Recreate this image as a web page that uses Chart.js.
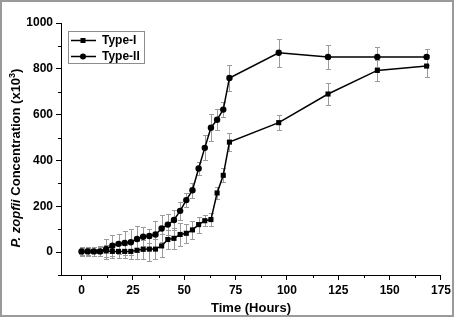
<!DOCTYPE html>
<html lang="en">
<head>
    <meta charset="UTF-8">
    <title>P. zopfii concentration over time</title>
    <style>
        html, body { margin: 0; padding: 0; background: #fff; }
        #chart { display: block; }
    </style>
</head>
<body>
<canvas id="chart" width="454" height="317"></canvas>

<script src="https://cdn.jsdelivr.net/npm/chart.js"></script>
<script>
    // sampling times (hours)
    const hours = [0, 3, 6, 9, 12, 15, 18, 21, 24, 27, 30, 33, 36, 39, 42, 45, 48, 51, 54, 57, 60, 63, 66, 69, 72, 96, 120, 144, 168];
    const typeI = [2, 3, 3, 3, 5, 3, 3, 3, 3, 8, 12, 13, 13, 27, 55, 60, 77, 82, 97, 120, 137, 142, 258, 335, 480, 565, 690, 793, 812];
    const typeIErr = [15, 15, 18, 18, 28, 28, 30, 28, 35, 40, 42, 50, 42, 50, 42, 45, 50, 42, 40, 35, 25, 30, 28, 31, 39, 33, 48, 47, 49];
    const typeII = [3, 3, 3, 3, 14, 28, 36, 40, 43, 57, 67, 70, 77, 103, 120, 140, 180, 227, 270, 365, 455, 543, 578, 622, 760, 870, 852, 852, 852];
    const typeIIErr = [20, 20, 20, 22, 45, 47, 45, 52, 57, 58, 41, 32, 57, 60, 46, 44, 40, 30, 33, 27, 55, 59, 46, 32, 55, 62, 51, 45, 36];
    const seriesNames = ['Type-I', 'Type-II'];
    const xTicks = [0, 25, 50, 75, 100, 125, 150, 175];
    const yTicks = [0, 200, 400, 600, 800, 1000];

    const FONT = '"Liberation Sans", Arial, sans-serif';

    function points(vals) {
        return hours.map((h, i) => ({ x: h, y: vals[i] }));
    }

    // gray error bars, drawn under the lines
    const errorBars = {
        id: 'errorBars',
        beforeDatasetsDraw(chart) {
            const ctx = chart.ctx;
            const y = chart.scales.y;
            const errs = [typeIErr, typeIIErr];
            ctx.save();
            ctx.strokeStyle = '#9a9a9a';
            ctx.lineWidth = 1;
            chart.data.datasets.forEach((ds, d) => {
                chart.getDatasetMeta(d).data.forEach((pt, i) => {
                    const v = ds.data[i].y, e = errs[d][i];
                    const top = Math.round(y.getPixelForValue(v + e)) + 0.5;
                    const bot = Math.round(y.getPixelForValue(v - e)) + 0.5;
                    const x = Math.round(pt.x) + 0.5;
                    ctx.beginPath();
                    ctx.moveTo(x, top); ctx.lineTo(x, bot);
                    ctx.moveTo(x - 2.5, top); ctx.lineTo(x + 2.5, top);
                    ctx.moveTo(x - 2.5, bot); ctx.lineTo(x + 2.5, bot);
                    ctx.stroke();
                });
            });
            ctx.restore();
        }
    };

    // minor ticks, axis titles, legend box and outer frame
    const decorations = {
        id: 'decorations',
        afterDraw(chart) {
            const ctx = chart.ctx;
            const xs = chart.scales.x, ys = chart.scales.y;
            const area = chart.chartArea;
            ctx.save();
            ctx.strokeStyle = '#000';
            ctx.lineWidth = 1;
            ctx.beginPath();
            for (let v = 12.5; v < 175; v += 25) {
                const px = Math.round(xs.getPixelForValue(v)) + 0.5;
                ctx.moveTo(px, area.bottom); ctx.lineTo(px, area.bottom + 3);
            }
            for (let v = -100; v < 1000; v += 200) {
                const py = Math.round(ys.getPixelForValue(v)) + 0.5;
                ctx.moveTo(area.left, py); ctx.lineTo(area.left - 3, py);
            }
            ctx.stroke();

            // x title
            ctx.fillStyle = '#000';
            ctx.font = 'bold 13px ' + FONT;
            ctx.textAlign = 'center';
            ctx.textBaseline = 'alphabetic';
            ctx.fillText('Time (Hours)', 251, 312);

            // y title with italic species name and superscript
            ctx.translate(20, 158);
            ctx.rotate(-Math.PI / 2);
            const parts = [
                { t: 'P. zopfii', f: 'italic bold 13px ' + FONT, dy: 0 },
                { t: ' Concentration (x10', f: 'bold 13px ' + FONT, dy: 0 },
                { t: '3', f: 'bold 9px ' + FONT, dy: -5 },
                { t: ')', f: 'bold 13px ' + FONT, dy: 0 }
            ];
            let total = 0;
            parts.forEach(p => { ctx.font = p.f; p.w = ctx.measureText(p.t).width; total += p.w; });
            let cx = -total / 2;
            ctx.textAlign = 'left';
            parts.forEach(p => { ctx.font = p.f; ctx.fillText(p.t, cx, p.dy); cx += p.w; });
            ctx.setTransform(1, 0, 0, 1, 0, 0);

            // legend
            ctx.strokeStyle = '#8c8c8c';
            ctx.lineWidth = 1;
            ctx.strokeRect(68.5, 31.5, 76, 32);
            const rows = [40, 56];
            ctx.font = 'bold 12px ' + FONT;
            ctx.textBaseline = 'middle';
            seriesNames.forEach((name, i) => {
                const yy = rows[i] + 0.5;
                ctx.strokeStyle = '#000';
                ctx.lineWidth = 1.5;
                ctx.beginPath();
                ctx.moveTo(71, yy); ctx.lineTo(96, yy);
                ctx.stroke();
                ctx.fillStyle = '#000';
                if (i === 0) {
                    ctx.fillRect(80.5, yy - 2.5, 5, 5);
                } else {
                    ctx.beginPath();
                    ctx.arc(83, yy, 3, 0, Math.PI * 2);
                    ctx.fill();
                }
                ctx.fillText(name, 102, rows[i] + 1);
            });

            // outer frame
            ctx.strokeStyle = '#9a9a9a';
            ctx.lineWidth = 2;
            ctx.strokeRect(1, 1, chart.width - 2, chart.height - 2);
            ctx.restore();
        }
    };

    new Chart(document.getElementById('chart'), {
        type: 'line',
        data: {
            datasets: [
                {
                    label: seriesNames[0],
                    data: points(typeI),
                    borderColor: '#000',
                    backgroundColor: '#000',
                    borderWidth: 1.5,
                    pointStyle: 'rect',
                    pointRadius: 3.6,
                    pointBorderWidth: 0
                },
                {
                    label: seriesNames[1],
                    data: points(typeII),
                    borderColor: '#000',
                    backgroundColor: '#000',
                    borderWidth: 1.5,
                    pointStyle: 'circle',
                    pointRadius: 3.2,
                    pointBorderWidth: 0
                }
            ]
        },
        options: {
            responsive: false,
            animation: false,
            devicePixelRatio: 1,
            layout: { padding: { top: 23, right: 13, left: 0, bottom: 0 } },
            plugins: {
                legend: { display: false },
                tooltip: { enabled: false }
            },
            events: [],
            scales: {
                x: {
                    type: 'linear',
                    min: -10,
                    max: 175,
                    afterBuildTicks: s => { s.ticks = xTicks.map(v => ({ value: v })); },
                    afterFit: s => { s.height = 42; },
                    border: { display: true, color: '#000', width: 1 },
                    grid: { drawOnChartArea: false, color: '#000', tickLength: 5 },
                    ticks: {
                        color: '#000',
                        padding: 3,
                        maxRotation: 0,
                        callback: v => String(v),
                        font: { family: FONT, size: 12, weight: 'bold' }
                    }
                },
                y: {
                    min: -100,
                    max: 1000,
                    afterBuildTicks: s => { s.ticks = yTicks.map(v => ({ value: v })); },
                    afterFit: s => { s.width = 61; },
                    border: { display: true, color: '#000', width: 1 },
                    grid: { drawOnChartArea: false, color: '#000', tickLength: 5 },
                    ticks: {
                        color: '#000',
                        padding: 3,
                        callback: v => String(v),
                        font: { family: FONT, size: 12, weight: 'bold' }
                    }
                }
            }
        },
        plugins: [errorBars, decorations]
    });
</script>
</body>
</html>
